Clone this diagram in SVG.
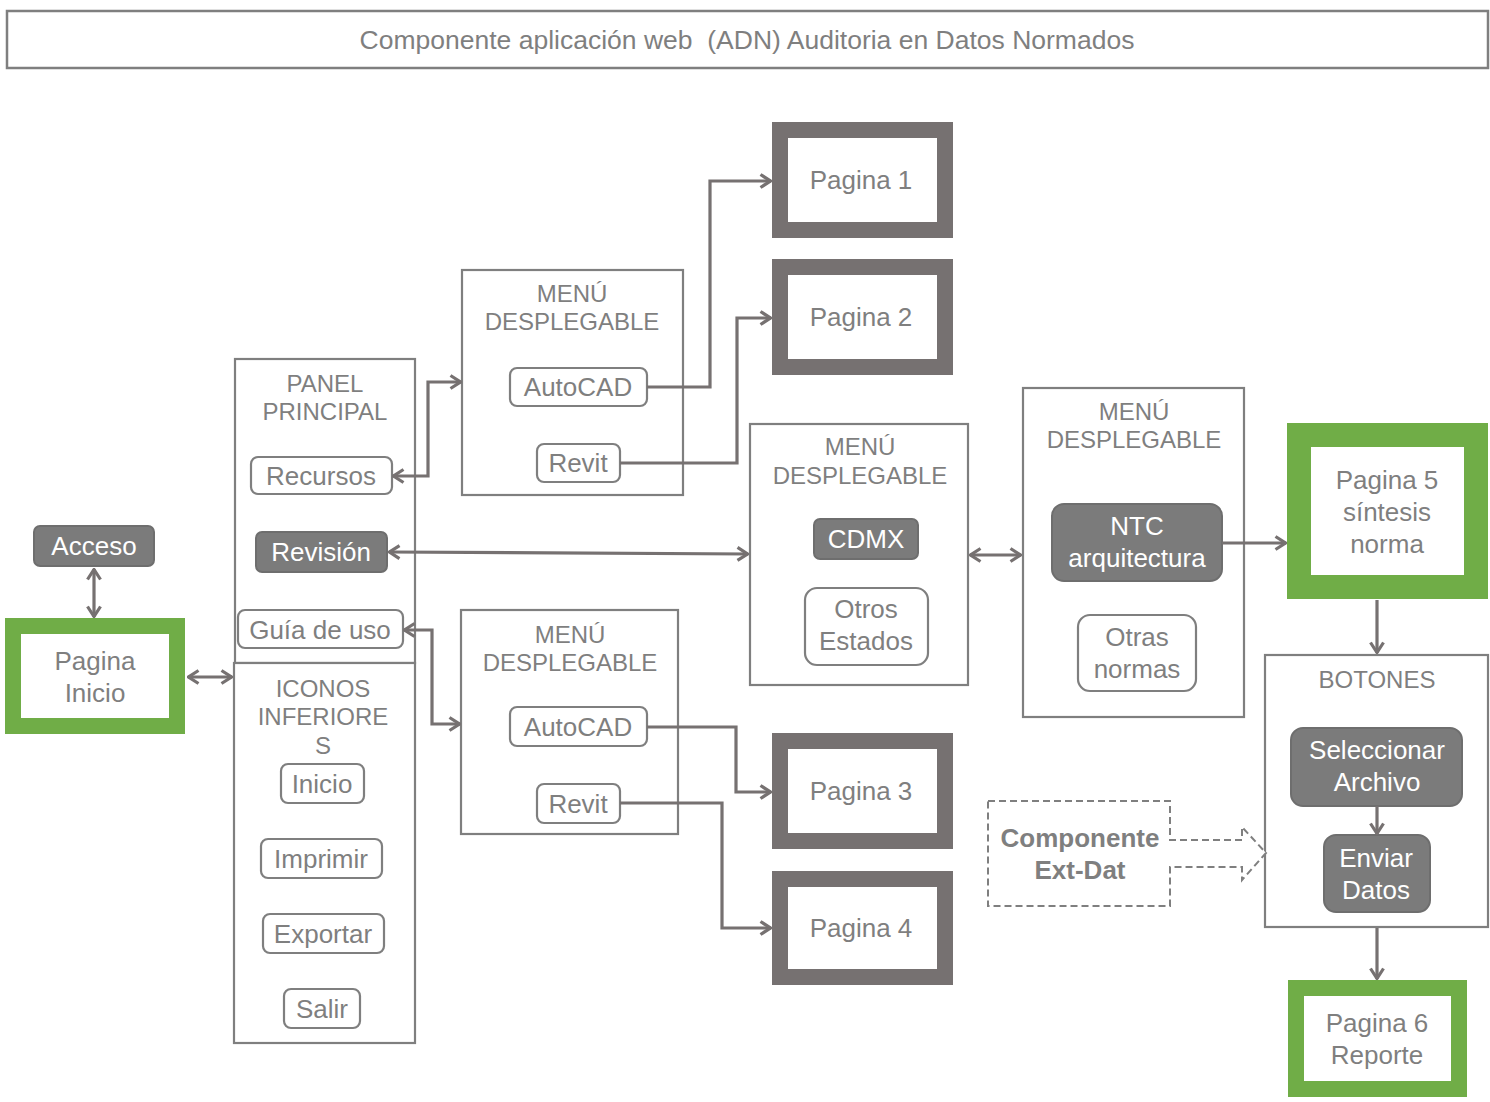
<svg xmlns="http://www.w3.org/2000/svg" width="1490" height="1102" viewBox="0 0 1490 1102">
  <style>
    text { font-family: "Liberation Sans", Arial, sans-serif; fill: #7f7f7f; text-anchor: middle; }
    .t26 { font-size: 26px; }
    .t24 { font-size: 24px; }
    .frame { fill: #ffffff; stroke: #7f7f7f; stroke-width: 2.2; }
    .btn { fill: #ffffff; stroke: #7f7f7f; stroke-width: 2.2; }
    .btnDark { fill: #7b7b7b; stroke: #6e6e6e; stroke-width: 2; }
    .white { fill: #ffffff; }
    .page { fill: #ffffff; stroke: #767171; stroke-width: 16; }
    .pageGreen { fill: #ffffff; stroke: #70ad47; stroke-width: 16; }
    .pageGreenWide { fill: #ffffff; stroke: #70ad47; stroke-width: 24; }
    .link { fill: none; stroke: #767171; stroke-width: 3.2; }
    .dash { fill: #ffffff; stroke: #7f7f7f; stroke-width: 2; stroke-dasharray: 7 4; }
  </style>
  <defs>
    <marker id="arrow" viewBox="0 0 13 16" refX="12" refY="8" markerWidth="13" markerHeight="16" markerUnits="userSpaceOnUse" orient="auto-start-reverse">
      <path d="M1.5,1.5 L11.5,8 L1.5,14.5" fill="none" stroke="#767171" stroke-width="3.2"/>
    </marker>
  </defs>

  <rect width="1490" height="1102" fill="#ffffff"/>

  <!-- title banner -->
  <g id="title">
    <rect x="7" y="11" width="1481" height="57" fill="#ffffff" stroke="#7f7f7f" stroke-width="2.5"/>
    <text x="747" y="49" font-size="26.5" xml:space="preserve">Componente aplicación web  (ADN) Auditoria en Datos Normados</text>
  </g>

  <!-- nodes -->
  <g id="acceso">
    <rect x="34" y="526" width="120" height="40" rx="6" class="btnDark"/>
    <text x="94" y="555" class="t26 white">Acceso</text>
  </g>

  <g id="pagina-inicio">
    <rect x="13" y="626" width="164" height="100" class="pageGreen"/>
    <text x="95" y="670" class="t26">Pagina</text>
    <text x="95" y="702" class="t26">Inicio</text>
  </g>

  <g id="panel-principal">
    <rect x="235" y="359" width="180" height="304" class="frame"/>
    <text x="325" y="392" class="t24">PANEL</text>
    <text x="325" y="420" class="t24">PRINCIPAL</text>
    <g id="recursos">
      <rect x="251" y="457" width="141" height="37" rx="7" class="btn"/>
      <text x="321" y="485" class="t26">Recursos</text>
    </g>
    <g id="revision">
      <rect x="256" y="532" width="131" height="40" rx="6" class="btnDark"/>
      <text x="321" y="561" class="t26 white">Revisión</text>
    </g>
    <g id="guia">
      <rect x="238" y="610" width="165" height="38" rx="7" class="btn"/>
      <text x="320" y="639" class="t26">Guía de uso</text>
    </g>
  </g>

  <g id="iconos-inferiores">
    <rect x="234" y="663" width="181" height="380" class="frame"/>
    <text x="323" y="697" class="t24">ICONOS</text>
    <text x="323" y="725" class="t24">INFERIORE</text>
    <text x="323" y="754" class="t24">S</text>
    <g id="inicio">
      <rect x="281" y="764" width="83" height="39" rx="7" class="btn"/>
      <text x="322" y="793" class="t26">Inicio</text>
    </g>
    <g id="imprimir">
      <rect x="261" y="839" width="121" height="39" rx="7" class="btn"/>
      <text x="321" y="868" class="t26">Imprimir</text>
    </g>
    <g id="exportar">
      <rect x="263" y="914" width="121" height="39" rx="7" class="btn"/>
      <text x="323" y="943" class="t26">Exportar</text>
    </g>
    <g id="salir">
      <rect x="284" y="989" width="76" height="39" rx="7" class="btn"/>
      <text x="322" y="1018" class="t26">Salir</text>
    </g>
  </g>

  <g id="menu-recursos">
    <rect x="462" y="270" width="221" height="225" class="frame"/>
    <text x="572" y="302" class="t24">MENÚ</text>
    <text x="572" y="330" class="t24">DESPLEGABLE</text>
    <g id="autocad-1">
      <rect x="510" y="368" width="137" height="38" rx="7" class="btn"/>
      <text x="578" y="396" class="t26">AutoCAD</text>
    </g>
    <g id="revit-1">
      <rect x="537" y="444" width="83" height="38" rx="7" class="btn"/>
      <text x="578" y="472" class="t26">Revit</text>
    </g>
  </g>

  <g id="menu-guia">
    <rect x="461" y="610" width="217" height="224" class="frame"/>
    <text x="570" y="643" class="t24">MENÚ</text>
    <text x="570" y="671" class="t24">DESPLEGABLE</text>
    <g id="autocad-2">
      <rect x="510" y="707" width="137" height="39" rx="7" class="btn"/>
      <text x="578" y="736" class="t26">AutoCAD</text>
    </g>
    <g id="revit-2">
      <rect x="537" y="784" width="83" height="39" rx="7" class="btn"/>
      <text x="578" y="813" class="t26">Revit</text>
    </g>
  </g>

  <g id="pagina-1">
    <rect x="780" y="130" width="165" height="100" class="page"/>
    <text x="861" y="189" class="t26">Pagina 1</text>
  </g>
  <g id="pagina-2">
    <rect x="780" y="267" width="165" height="100" class="page"/>
    <text x="861" y="326" class="t26">Pagina 2</text>
  </g>
  <g id="pagina-3">
    <rect x="780" y="741" width="165" height="100" class="page"/>
    <text x="861" y="800" class="t26">Pagina 3</text>
  </g>
  <g id="pagina-4">
    <rect x="780" y="879" width="165" height="98" class="page"/>
    <text x="861" y="937" class="t26">Pagina 4</text>
  </g>

  <g id="menu-estados">
    <rect x="750" y="424" width="218" height="261" class="frame"/>
    <text x="860" y="455" class="t24">MENÚ</text>
    <text x="860" y="484" class="t24">DESPLEGABLE</text>
    <g id="cdmx">
      <rect x="814" y="519" width="104" height="40" rx="6" class="btnDark"/>
      <text x="866" y="548" class="t26 white">CDMX</text>
    </g>
    <g id="otros-estados">
      <rect x="805" y="588" width="123" height="77" rx="12" class="btn"/>
      <text x="866" y="618" class="t26">Otros</text>
      <text x="866" y="650" class="t26">Estados</text>
    </g>
  </g>

  <g id="menu-normas">
    <rect x="1023" y="388" width="221" height="329" class="frame"/>
    <text x="1134" y="420" class="t24">MENÚ</text>
    <text x="1134" y="448" class="t24">DESPLEGABLE</text>
    <g id="ntc">
      <rect x="1052" y="504" width="170" height="77" rx="12" class="btnDark"/>
      <text x="1137" y="535" class="t26 white">NTC</text>
      <text x="1137" y="567" class="t26 white">arquitectura</text>
    </g>
    <g id="otras-normas">
      <rect x="1078" y="615" width="118" height="76" rx="12" class="btn"/>
      <text x="1137" y="646" class="t26">Otras</text>
      <text x="1137" y="678" class="t26">normas</text>
    </g>
  </g>

  <g id="pagina-5">
    <rect x="1299" y="435" width="177" height="152" class="pageGreenWide"/>
    <text x="1387" y="489" class="t26">Pagina 5</text>
    <text x="1387" y="521" class="t26">síntesis</text>
    <text x="1387" y="553" class="t26">norma</text>
  </g>

  <g id="botones">
    <rect x="1265" y="655" width="223" height="272" class="frame"/>
    <text x="1377" y="688" class="t24">BOTONES</text>
    <g id="seleccionar">
      <rect x="1291" y="728" width="171" height="78" rx="12" class="btnDark"/>
      <text x="1377" y="759" class="t26 white">Seleccionar</text>
      <text x="1377" y="791" class="t26 white">Archivo</text>
    </g>
    <g id="enviar">
      <rect x="1324" y="835" width="106" height="77" rx="12" class="btnDark"/>
      <text x="1376" y="867" class="t26 white">Enviar</text>
      <text x="1376" y="899" class="t26 white">Datos</text>
    </g>
  </g>

  <g id="pagina-6">
    <rect x="1296" y="988" width="163" height="101" class="pageGreen"/>
    <text x="1377" y="1032" class="t26">Pagina 6</text>
    <text x="1377" y="1064" class="t26">Reporte</text>
  </g>

  <g id="componente-ext-dat">
    <path d="M988,801 H1170 V840 H1242 V827 L1266,853 L1242,880 V867 H1170 V906 H988 Z" class="dash"/>
    <text x="1080" y="847" class="t26" font-weight="bold">Componente</text>
    <text x="1080" y="879" class="t26" font-weight="bold">Ext-Dat</text>
  </g>

  <!-- connectors -->
  <g id="connectors">
    <path d="M94,569 V617" class="link" marker-start="url(#arrow)" marker-end="url(#arrow)"/>
    <path d="M188,677 H232" class="link" marker-start="url(#arrow)" marker-end="url(#arrow)"/>
    <path d="M393,476 H428 V382 H461" class="link" marker-start="url(#arrow)" marker-end="url(#arrow)"/>
    <path d="M389,552 L748,554" class="link" marker-start="url(#arrow)" marker-end="url(#arrow)"/>
    <path d="M404,630 H432 V724 H460" class="link" marker-start="url(#arrow)" marker-end="url(#arrow)"/>
    <path d="M647,387 H710 V181 H771" class="link" marker-end="url(#arrow)"/>
    <path d="M620,463 H737 V318 H771" class="link" marker-end="url(#arrow)"/>
    <path d="M647,727 H736 V792 H771" class="link" marker-end="url(#arrow)"/>
    <path d="M620,803 H722 V928 H771" class="link" marker-end="url(#arrow)"/>
    <path d="M970,555 H1021" class="link" marker-start="url(#arrow)" marker-end="url(#arrow)"/>
    <path d="M1222,543 H1286" class="link" marker-end="url(#arrow)"/>
    <path d="M1377,600 V653" class="link" marker-end="url(#arrow)"/>
    <path d="M1377,806 V834" class="link" marker-end="url(#arrow)"/>
    <path d="M1377,928 V979" class="link" marker-end="url(#arrow)"/>
  </g>
</svg>
